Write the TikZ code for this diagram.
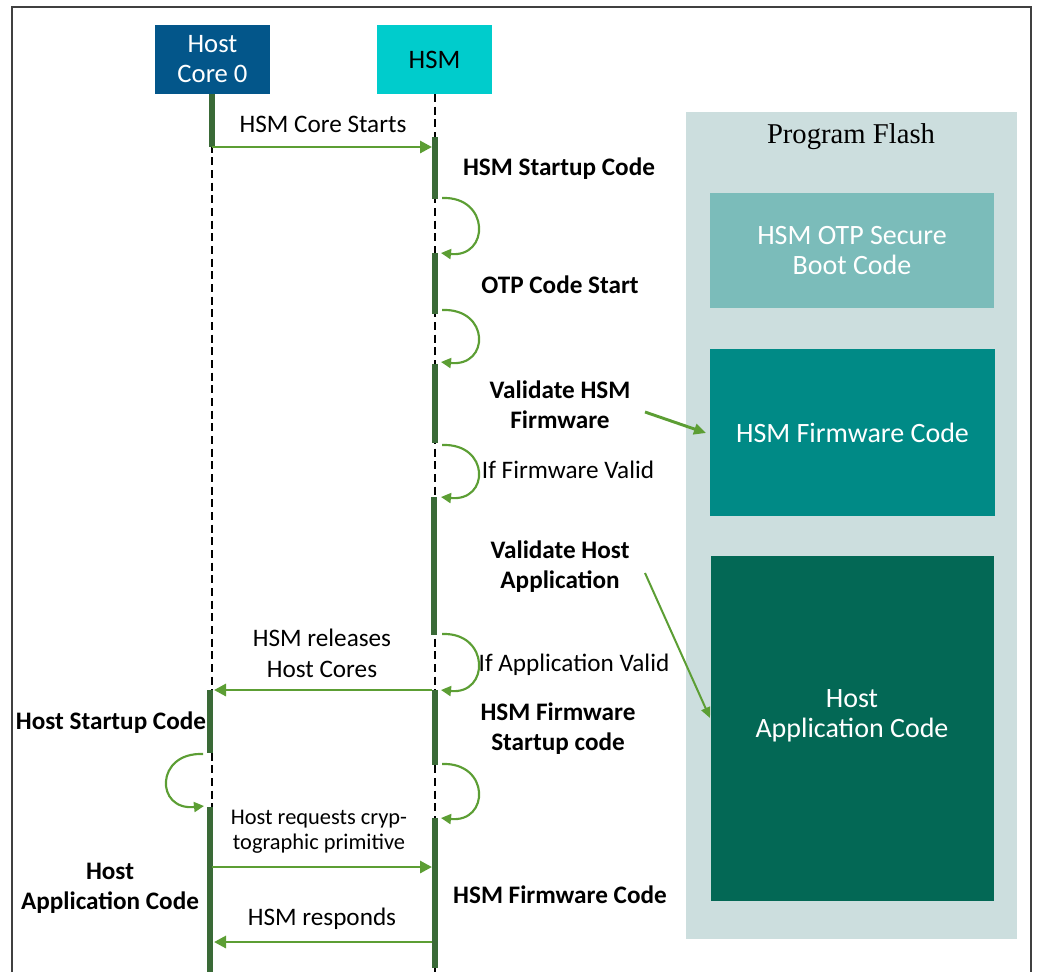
\documentclass[tikz,border=0pt]{standalone}
\usepackage{fontspec}
\usetikzlibrary{arrows.meta}
\newfontfamily\calibri{Carlito}
\newfontfamily\flashserif{Liberation Serif}
\definecolor{hostblue}{HTML}{03568A}
\definecolor{hsmcyan}{HTML}{00CCCC}
\definecolor{flashbg}{HTML}{CCDEDE}
\definecolor{otpfill}{HTML}{7BBCBA}
\definecolor{fwfill}{HTML}{008A86}
\definecolor{appfill}{HTML}{036855}
\definecolor{bargreen}{HTML}{3A6A37}
\definecolor{msggreen}{HTML}{5C9E34}
\tikzset{
  frameline/.style={draw=black!75, line width=1.1pt},
  lifeline/.style={draw=black, line width=0.9pt, dash pattern=on 6pt off 3.5pt},
  actbar/.style={draw=bargreen, line width=4.5pt},
  msg/.style={draw=msggreen, line width=2.2pt, -{Triangle[length=9pt,width=9pt]}},
  selfmsg/.style={draw=msggreen, line width=1.6pt, -{Triangle[length=7.5pt,width=7.5pt]}},
  pointer/.style={draw=msggreen, line width=2.2pt, -{Triangle[length=9pt,width=8pt]}},
  thinpointer/.style={draw=msggreen, line width=1.5pt, -{Triangle[length=8pt,width=7pt]}},
  headbox/.style={inner sep=0pt, minimum width=86.25pt, minimum height=51.75pt, align=center,
    font=\calibri\fontsize{20}{22.5}\selectfont},
  plain/.style={inner sep=0pt, align=center, font=\calibri\fontsize{18.9}{23}\selectfont},
  small/.style={inner sep=0pt, align=center, font=\calibri\fontsize{16.8}{18.75}\selectfont},
  strong/.style={inner sep=0pt, align=center, font=\calibri\bfseries\fontsize{18.9}{22.5}\selectfont},
  memtext/.style={inner sep=0pt, align=center, text=white, font=\calibri\fontsize{21}{22.5}\selectfont},
}
\begin{document}
\begin{tikzpicture}[x=0.75pt,y=-0.75pt]
\useasboundingbox (0,0) rectangle (1037,972);
% outer frame
\draw[frameline] (12,972) -- (12,7) -- (1031,7) -- (1031,972);

% program flash memory map
\node[fill=flashbg, inner sep=0pt, minimum width=248.25pt, minimum height=620.25pt] (flash) at (851.5,525.5) {};
\node[inner sep=0pt, font=\flashserif\fontsize{21.5}{24}\selectfont] (flashlbl) at (851,137) {Program Flash};
\node[fill=otpfill, minimum width=213pt, minimum height=86.25pt, memtext] (otp) at (852,250.5) {HSM OTP Secure\\Boot Code};
\node[fill=fwfill, minimum width=213.75pt, minimum height=125.25pt, memtext] (fw) at (852.5,432.5) {HSM Firmware Code};
\node[fill=appfill, minimum width=212.25pt, minimum height=258.75pt, inner sep=0pt] (app) at (852.5,728.5) {};
\node[memtext] (applbl) at (852,716) {Host\\Application Code};

% participants
\node[headbox, fill=hostblue, text=white] (host) at (212.5,59.5) {Host\\Core 0};
\node[headbox, fill=hsmcyan, text=black] (hsm) at (434.5,59.5) {HSM};

% lifelines
\coordinate (hostend) at (212,972);
\coordinate (hsmend) at (435,972);
\draw[lifeline] (212,94) -- (hostend);
\draw[lifeline] (435,94) -- (hsmend);

% activation bars
\coordinate (ha1) at (212,94);   \coordinate (hb1) at (212,147);
\coordinate (ha2) at (210,690);  \coordinate (hb2) at (210,753);
\coordinate (ha3) at (210,807);  \coordinate (hb3) at (210,972);
\coordinate (sa1) at (435,137);  \coordinate (sb1) at (435,199);
\coordinate (sa2) at (435,253);  \coordinate (sb2) at (435,314);
\coordinate (sa3) at (435,364);  \coordinate (sb3) at (435,443);
\coordinate (sa4) at (434,497);  \coordinate (sb4) at (434,635);
\coordinate (sa5) at (435,690);  \coordinate (sb5) at (435,765);
\coordinate (sa6) at (435,818);  \coordinate (sb6) at (435,968);
\foreach \a/\b in {ha1/hb1,ha2/hb2,ha3/hb3,sa1/sb1,sa2/sb2,sa3/sb3,sa4/sb4,sa5/sb5,sa6/sb6}
  \draw[actbar] (\a) -- (\b);

% messages between host and HSM
\coordinate (m1s) at (212,147);  \coordinate (m1e) at (432,147);
\coordinate (m2s) at (432,690);  \coordinate (m2e) at (214,690);
\coordinate (m3s) at (212,867);  \coordinate (m3e) at (432,867);
\coordinate (m4s) at (432,942);  \coordinate (m4e) at (214,942);
\draw[msg] (m1s) -- (m1e);
\draw[msg] (m2s) -- (m2e);
\draw[msg] (m3s) -- (m3e);
\draw[msg] (m4s) -- (m4e);

% self transitions on the HSM
\draw[selfmsg] (442,198) .. controls (490,196) and (490,258) .. (441,253);
\draw[selfmsg] (442,310) .. controls (490,308) and (490,367) .. (441,362);
\draw[selfmsg] (442,445) .. controls (490,443) and (490,502) .. (441,497);
\draw[selfmsg] (442,634) .. controls (490,632) and (490,695) .. (441,690);
\draw[selfmsg] (442,764) .. controls (490,762) and (490,823) .. (441,818);
% self transition on the host
\draw[selfmsg] (203,754) .. controls (155,752) and (155,811) .. (204,806);

% labels
\node[plain] (l1) at (323,124) {HSM Core Starts};
\node[strong] (l2) at (559,169) {HSM Startup Code};
\node[strong] (l3) at (560,285) {OTP Code Start};
\node[strong] (l4) at (560,405) {Validate HSM\\Firmware};
\node[plain] (l5) at (568,470) {If Firmware Valid};
\node[strong] (l6) at (560,567) {Validate Host\\Application};
\node[plain] (l7) at (574,665) {If Application Valid};
\node[plain] (l8) at (322,653) {HSM releases\\Host Cores};
\node[strong] (l9) at (111,723) {Host Startup Code};
\node[strong] (l10) at (558,729) {HSM Firmware\\Startup code};
\node[small] (l11) at (319,832) {Host requests cryp-\\tographic primitive};
\node[strong] (l12) at (110,888) {Host\\Application Code};
\node[strong] (l13) at (560,895) {HSM Firmware Code};
\node[plain] (l14) at (322,919) {HSM responds};

% references into the flash map
\coordinate (p1s) at (645,412);
\coordinate (p1e) at (706,433);
\coordinate (p2s) at (645,573);
\coordinate (p2e) at (710,718);
\draw[pointer] (p1s) -- (p1e);
\draw[thinpointer] (p2s) -- (p2e);
\end{tikzpicture}
\end{document}
